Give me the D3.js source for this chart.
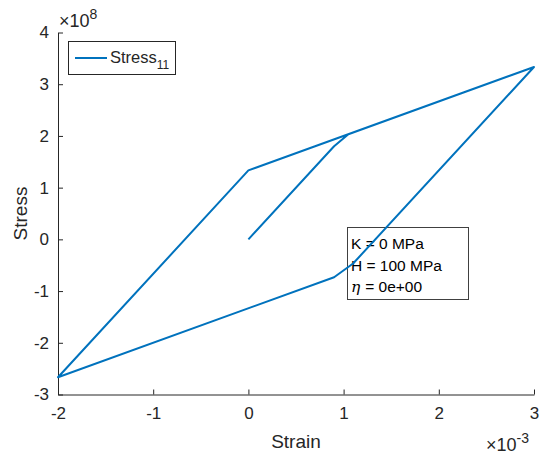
<!DOCTYPE html>
<html>
<head>
<meta charset="UTF-8">
<script src="https://d3js.org/d3.v7.min.js"></script>
<style>
  body { margin: 0; background: #fff; }
  text { font-family: "Liberation Sans", Arial, sans-serif; fill: #262626; }
</style>
</head>
<body>
<svg id="chart" width="540" height="457"></svg>
<script>
// Dehnung (x 1e-3) und Spannung (x 1e8), Lastpfad 0 -> 3 -> -2 -> 3
const strain = [0, 0.9, 1.05, 3, 1.1, 0.9, -2, 0, 3];
const stress = [0, 1.8, 2.033, 3.333, -0.467, -0.733, -2.667, 1.333, 3.333];
const xTicks = [-2, -1, 0, 1, 2, 3];
const yTicks = [-3, -2, -1, 0, 1, 2, 3, 4];
const infoLines = ["K = 0 MPa", "H = 100 MPa", "= 0e+00"];

const svg = d3.select("#chart");
const mLeft = 58, mRight = 534, mTop = 32.5, mBottom = 394.5;
const axisColor = "#262626";
const lineColor = "#0072BD";

const x = d3.scaleLinear().domain([-2, 3]).range([mLeft, mRight]);
const y = d3.scaleLinear().domain([-3, 4]).range([mBottom, mTop]);

// Achsen (MATLAB-Stil, Ticks nach innen)
const xAxis = svg.append("g").attr("transform", `translate(0,${mBottom})`)
  .call(d3.axisBottom(x).tickValues(xTicks).tickSize(-5).tickPadding(12).tickSizeOuter(0)
    .tickFormat(d => d < 0 ? "-" + Math.abs(d) : d));
const yAxis = svg.append("g").attr("transform", `translate(${mLeft},0)`)
  .call(d3.axisLeft(y).tickValues(yTicks).tickSize(-5).tickPadding(9).tickSizeOuter(0)
    .tickFormat(d => d < 0 ? "-" + Math.abs(d) : d));

[xAxis, yAxis].forEach(a => {
  a.select(".domain").attr("stroke", axisColor).attr("stroke-width", 1);
  a.selectAll(".tick line").attr("stroke", axisColor);
  a.selectAll(".tick text").attr("font-size", 17).attr("fill", axisColor)
    .style("font-family", '"Liberation Sans", Arial, sans-serif');
});

// Infobox (ohne Füllung, Kurve läuft darüber)
const ib = svg.append("g");
ib.append("rect").attr("x", 347.5).attr("y", 227.5).attr("width", 121).attr("height", 72)
  .attr("fill", "none").attr("stroke", "#404040").attr("stroke-width", 1);
infoLines.forEach((t, i) => {
  const tx = ib.append("text").attr("x", 351).attr("y", 249 + i * 21.5)
    .attr("font-size", 15.5).style("fill", "#000");
  if (i === 2) {
    tx.append("tspan").style("font-family", '"DejaVu Serif", serif')
      .attr("font-style", "italic").text("η ");
  }
  tx.append("tspan").text(t);
});

// Kurve
const pts = strain.map((s, i) => [s, stress[i]]);
svg.append("path")
  .datum(pts)
  .attr("fill", "none")
  .attr("stroke", lineColor)
  .attr("stroke-width", 2)
  .attr("stroke-linejoin", "round")
  .attr("d", d3.line().x(d => x(d[0])).y(d => y(d[1])));

// Achsentitel
svg.append("text").attr("x", (mLeft + mRight) / 2).attr("y", 448)
  .attr("text-anchor", "middle").attr("font-size", 19).text("Strain");
svg.append("text").attr("transform", `translate(27,${(mTop + mBottom) / 2}) rotate(-90)`)
  .attr("text-anchor", "middle").attr("font-size", 19).text("Stress");

// Exponenten
const ey = svg.append("text").attr("x", 59).attr("y", 27).attr("font-size", 18);
ey.append("tspan").text("×10");
ey.append("tspan").attr("font-size", 14).attr("dy", -8).text("8");
const ex = svg.append("text").attr("x", 486).attr("y", 451).attr("font-size", 18);
ex.append("tspan").text("×10");
ex.append("tspan").attr("font-size", 14).attr("dy", -8).text("-3");

// Legende
const lg = svg.append("g");
lg.append("rect").attr("x", 68.5).attr("y", 41.5).attr("width", 107).attr("height", 33)
  .attr("fill", "#fff").attr("stroke", axisColor).attr("stroke-width", 1);
lg.append("line").attr("x1", 75).attr("x2", 107).attr("y1", 58).attr("y2", 58)
  .attr("stroke", lineColor).attr("stroke-width", 2);
const lt = lg.append("text").attr("x", 110).attr("y", 63).attr("font-size", 16.5);
lt.append("tspan").text("Stress");
lt.append("tspan").attr("font-size", 12).attr("dy", 6).text("11");
</script>
</body>
</html>
